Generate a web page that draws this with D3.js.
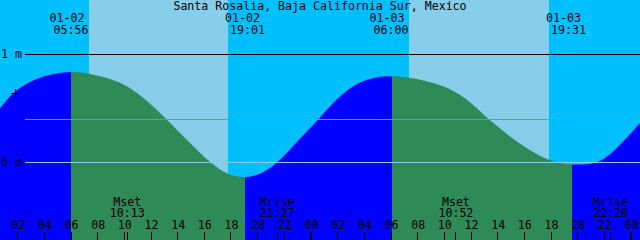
<!DOCTYPE html>
<meta charset="utf-8">
<style>
body { margin: 0; }
svg text {
  font-family: "DejaVu Sans Mono", monospace;
  font-size: 11.6px;
  fill: #000;
}
</style>
<body>
<svg width="640" height="240"></svg>
<script src="https://cdn.jsdelivr.net/npm/d3@7"></script>
<script>

var title = "Santa Rosalia, Baja California Sur, Mexico";

// hours counted from 01-02 00:00, heights in metres
var tideHours   = [0.675, 1.875, 3.675, 6.0, 8.175, 9.855, 11.39, 13.22, 14.76, 16.44, 17.82, 19.04,
                   20.33, 21.495, 23.025, 24.5, 26.085, 27.6, 28.8, 30.0, 31.425, 32.25, 33.95, 35.5,
                   37.41, 39.555, 41.85, 43.55, 45.375, 46.575, 48.675];
var tideHeights = [0.496, 0.660, 0.781, 0.833, 0.794, 0.722, 0.598, 0.389, 0.197, 0.0, -0.111, -0.139,
                   -0.099, 0.0, 0.197, 0.389, 0.598, 0.731, 0.781, 0.793, 0.778, 0.760, 0.700, 0.596,
                   0.389, 0.181, 0.021, -0.022, -0.004, 0.089, 0.361];

// high, low, high, low
var turnHours = [6.0, 19.05, 30.05, 43.55];

var dayStart = [7.35, 31.35];
var dayEnd   = [17.775, 41.85];
var sunriseText = [["01-02", "05:56"], ["01-03", "06:00"]];
var sunsetText  = [["01-02", "19:01"], ["01-03", "19:31"]];

var moonHours = [10.217, 21.45, 34.867, 46.467];
var moonNames = ["Mset", "Mrise", "Mset", "Mrise"];
var moonTimes = ["10:13", "21:27", "10:52", "22:28"];

var levelValues = [1, 0];
var levelLabels = ["1 m", "0 m"];
var meanLevel = 0.39;
var markHour = 1.875, markHeight = 0.64;

var hourTicks = d3.range(2, 49, 2);

var W = 640, H = 240;
var svg = d3.select("svg");

var x = d3.scaleLinear().domain([0.675, 48.675]).range([0, W]);
var y = d3.scaleLinear().domain([0, 1]).range([162, 54]);
var px = function(v){ return Math.floor(v) + 0.5; };

// sky: night then day bands
svg.append("rect").attr("width", W).attr("height", H).attr("fill", "#00bfff");
svg.selectAll("rect.day").data(dayStart).enter().append("rect")
    .attr("class", "day")
    .attr("x", function(d){ return Math.round(x(d)); })
    .attr("width", function(d, i){ return Math.round(x(dayEnd[i])) - Math.round(x(d)); })
    .attr("y", 0).attr("height", H)
    .attr("fill", "#87ceeb");

// tide: blue while rising, sea green while falling
var bounds = [x.domain()[0]].concat(turnHours, [x.domain()[1]]);
var defs = svg.append("defs");
var pts = tideHours.map(function(h, i){ return [h, tideHeights[i]]; });
var area = d3.area()
    .x(function(d){ return x(d[0]); })
    .y0(H)
    .y1(function(d){ return y(d[1]); })
    .curve(d3.curveCatmullRom.alpha(0.5));

for (var i = 0; i < bounds.length - 1; i++) {
  var x0 = Math.round(x(bounds[i])), x1 = Math.round(x(bounds[i + 1]));
  defs.append("clipPath").attr("id", "seg" + i)
    .append("rect").attr("x", x0).attr("y", 0).attr("width", x1 - x0).attr("height", H);
  svg.append("path").datum(pts)
    .attr("d", area)
    .attr("clip-path", "url(#seg" + i + ")")
    .attr("fill", i % 2 == 0 ? "#0000ff" : "#2e8b57");
}

// level lines
svg.append("line")
    .attr("x1", 25).attr("x2", W)
    .attr("y1", px(y(meanLevel))).attr("y2", px(y(meanLevel)))
    .attr("stroke", "#5aa58a");
svg.selectAll("line.level").data(levelValues).enter().append("line")
    .attr("class", "level")
    .attr("x1", 25).attr("x2", W)
    .attr("y1", function(d){ return px(y(d)); })
    .attr("y2", function(d){ return px(y(d)); })
    .attr("stroke", function(d){ return d == 0 ? "#8ccfea" : "#000"; });
svg.selectAll("text.level").data(levelValues).enter().append("text")
    .attr("class", "level")
    .attr("x", 1)
    .attr("y", function(d){ return y(d) + 4; })
    .text(function(d, i){ return levelLabels[i]; });

// cross mark
var mx = Math.round(x(markHour)) - 0.5, my = Math.round(y(markHeight)) + 0.5;
svg.append("path")
    .attr("d", "M" + (mx - 4.5) + "," + my + "H" + (mx + 4.5) + "M" + mx + "," + (my - 4.5) + "V" + (my + 4.5))
    .attr("stroke", "#000").attr("fill", "none");

// title
svg.append("text").attr("x", W / 2).attr("y", 10)
    .attr("text-anchor", "middle").text(title);

// sunrise / sunset labels
dayStart.forEach(function(h, i){
  var xs = Math.round(x(h));
  svg.append("text").attr("x", xs - 4.5).attr("y", 22).attr("text-anchor", "end").text(sunriseText[i][0]);
  svg.append("text").attr("x", xs - 0.5).attr("y", 34).attr("text-anchor", "end").text(sunriseText[i][1]);
});
dayEnd.forEach(function(h, i){
  var xs = Math.round(x(h));
  svg.append("text").attr("x", xs - 3).attr("y", 22).text(sunsetText[i][0]);
  svg.append("text").attr("x", xs + 2).attr("y", 34).text(sunsetText[i][1]);
});

// moon labels
moonHours.forEach(function(h, i){
  svg.append("text").attr("x", x(h)).attr("y", 206).attr("text-anchor", "middle").text(moonNames[i]);
  svg.append("text").attr("x", x(h)).attr("y", 217).attr("text-anchor", "middle").text(moonTimes[i]);
});

// hour axis
var fmt = d3.format("02");
svg.selectAll("line.hour").data(hourTicks.concat(moonHours)).enter().append("line")
    .attr("class", "hour")
    .attr("x1", function(d){ return d % 24 == 0 ? x(d) : px(x(d)); })
    .attr("x2", function(d){ return d % 24 == 0 ? x(d) : px(x(d)); })
    .attr("y1", 232).attr("y2", H)
    .attr("stroke", "#000")
    .attr("stroke-width", function(d){ return d % 24 == 0 ? 2 : 1; });
svg.selectAll("text.hour").data(hourTicks).enter().append("text")
    .attr("class", "hour")
    .attr("x", function(d){ return x(d) + 0.5; })
    .attr("y", 229)
    .attr("text-anchor", "middle")
    .text(function(d){ return fmt(d % 24); });

</script>
